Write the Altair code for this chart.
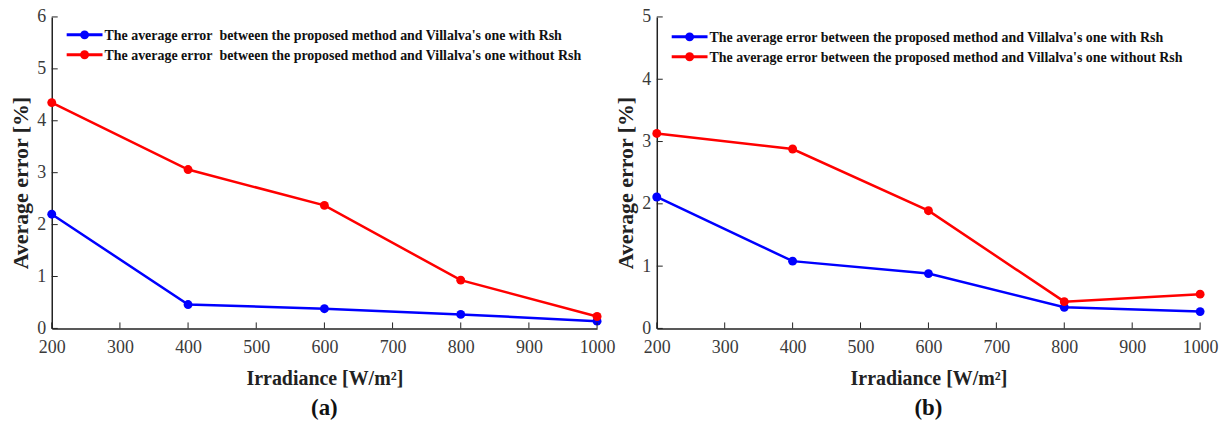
import altair as alt
import pandas as pd

irradiance = [200, 400, 600, 800, 1000]
a_with_rsh = [2.20, 0.46, 0.38, 0.27, 0.14]
a_without_rsh = [4.35, 3.06, 2.37, 0.93, 0.23]
b_with_rsh = [2.11, 1.08, 0.88, 0.34, 0.27]
b_without_rsh = [3.13, 2.88, 1.89, 0.43, 0.55]

x_ticks = [200, 300, 400, 500, 600, 700, 800, 900, 1000]
a_y_ticks = [0, 1, 2, 3, 4, 5, 6]
b_y_ticks = [0, 1, 2, 3, 4, 5]

labels_a = ["The average error\u00a0 between the proposed method and Villalva's one with Rsh",
            "The average error\u00a0 between the proposed method and Villalva's one without Rsh"]
labels_b = ["The average error between the proposed method and Villalva's one with Rsh",
            "The average error between the proposed method and Villalva's one without Rsh"]

FONT = "Liberation Serif"
BLUE = "#0000ff"
RED = "#ff0000"


def panel(with_vals, without_vals, y_max, y_ticks, labels, caption, W, H, leg_y):
    df = pd.DataFrame({
        "x": irradiance * 2,
        "y": with_vals + without_vals,
        "s": ["with"] * 5 + ["without"] * 5,
    })
    xs = alt.Scale(domain=[200, 1000], nice=False)
    ys = alt.Scale(domain=[0, y_max], nice=False)
    color = alt.Color("s:N", scale=alt.Scale(domain=["with", "without"], range=[BLUE, RED]), legend=None)
    base = alt.Chart(df)
    lines = base.mark_line(strokeWidth=2.5, clip=False).encode(
        x=alt.X("x:Q", scale=xs, axis=alt.Axis(values=x_ticks, format="d", title="Irradiance [W/m²]")),
        y=alt.Y("y:Q", scale=ys, axis=alt.Axis(values=y_ticks, format="d", title="Average error [%]",
                                               titleY=H / 2 + 10)),
        color=color,
    )
    pts = base.mark_circle(size=80, opacity=1, clip=False).encode(
        x=alt.X("x:Q", scale=xs), y=alt.Y("y:Q", scale=ys), color=color
    )
    xt = alt.Chart(pd.DataFrame({"t": x_ticks})).mark_rule(color="#222", strokeWidth=1).encode(
        x=alt.X("t:Q", scale=xs), y=alt.value(H), y2=alt.value(H - 6)
    )
    yt = alt.Chart(pd.DataFrame({"t": y_ticks})).mark_rule(color="#222", strokeWidth=1).encode(
        y=alt.Y("t:Q", scale=ys), x=alt.value(0), x2=alt.value(6)
    )
    leg = []
    for i, (lab, col) in enumerate(zip(labels, [BLUE, RED])):
        ly = leg_y + i * 20
        d = pd.DataFrame({"label": [lab]})
        c = alt.Chart(d)
        leg.append(c.mark_rule(color=col, strokeWidth=3).encode(
            x=alt.value(15), x2=alt.value(51), y=alt.value(ly)))
        leg.append(c.mark_circle(color=col, size=80, opacity=1).encode(
            x=alt.value(33), y=alt.value(ly)))
        leg.append(c.mark_text(align="left", baseline="middle", font=FONT, fontSize=14,
                               fontWeight="bold", color="#111").encode(
            x=alt.value(53), y=alt.value(ly + 1), text="label:N"))
    return alt.layer(lines, pts, xt, yt, *leg).properties(
        width=W, height=H,
        title=alt.TitleParams(caption, orient="bottom", font=FONT, fontSize=23,
                              fontWeight="bold", color="#111", offset=9),
    )


pa = panel(a_with_rsh, a_without_rsh, 6, a_y_ticks, labels_a, "(a)", 548, 313, 18)
pb = panel(b_with_rsh, b_without_rsh, 5, b_y_ticks, labels_b, "(b)", 546, 313, 20)

chart = alt.hconcat(pa, pb, spacing=0).properties(
    padding={"left": 10, "top": 7, "right": 5, "bottom": 0}
).configure_view(stroke=None).configure_axis(
    labelFont=FONT, labelFontSize=18, labelColor="#3a3a3a",
    titleFont=FONT, titleFontSize=20, titleFontWeight="bold", titleColor="#222",
    domainColor="#222", domainWidth=1.5, ticks=False, grid=False,
).configure_axisX(titlePadding=12, labelPadding=10, labelFlush=False).configure_axisY(
    titlePadding=4, labelPadding=6, titleFontSize=22)

chart.save("out.html", embed_options={"renderer": "svg", "actions": False})
